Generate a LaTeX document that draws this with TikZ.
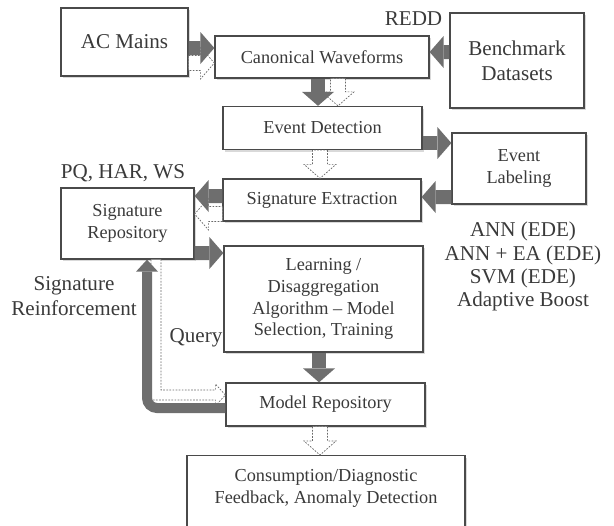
\documentclass[tikz,border=0pt]{standalone}
\usepackage{fontspec}
\setmainfont{Liberation Serif}
\usetikzlibrary{arrows.meta, shadows, calc}
\definecolor{contorno}{HTML}{4A4A4A}
\definecolor{texto}{HTML}{3A3A3A}
\definecolor{setacinza}{HTML}{6E6E6E}
\definecolor{pontilhado}{HTML}{6A6A6A}

\begin{document}
\begin{tikzpicture}[
    caixa/.style={draw=contorno, line width=0.9pt, fill=white, text=texto, align=center,
      inner sep=0pt, font=\fontsize{13}{15.6}\selectfont,
      drop shadow={shadow xshift=0.05cm, shadow yshift=-0.05cm, opacity=0.3}},
    grande/.style={font=\fontsize{15}{17.8}\selectfont},
    rotulo/.style={text=texto, align=center, font=\fontsize{15}{17.8}\selectfont},
    setacheia/.style={draw=setacinza, line width=0.35cm,
      -{Triangle[width=0.8cm, length=0.35cm, line width=0pt]}},
    setaretorno/.style={draw=setacinza, line width=0.25cm, rounded corners=0.25cm,
      -{Triangle[width=0.55cm, length=0.3cm, line width=0pt]}},
    consulta/.style={draw=pontilhado, line width=0.5pt, dash pattern=on 1.2pt off 1pt, fill=white},
    setavazada/.style={draw=pontilhado, line width=0.5pt, dash pattern=on 1.2pt off 1pt, fill=white, to path={
      let \p1=(\tikztostart), \p2=(\tikztotarget),
          \n1={atan2(\y2-\y1,\x2-\x1)}, \n2={veclen(\x2-\x1,\y2-\y1)-9.96pt} in
      ([shift={(\p1)},rotate=\n1] 0pt,5.3pt) -- ([shift={(\p1)},rotate=\n1] \n2,5.3pt)
      -- ([shift={(\p1)},rotate=\n1] \n2,11.4pt) -- (\p2)
      -- ([shift={(\p1)},rotate=\n1] \n2,-11.4pt) -- ([shift={(\p1)},rotate=\n1] \n2,-5.3pt)
      -- ([shift={(\p1)},rotate=\n1] 0pt,-5.3pt) -- cycle}},
  ]
  \useasboundingbox (0,0) rectangle (15.35,-13.125);

  % Caixas
  \node[caixa, grande, minimum width=3.175cm, minimum height=1.7cm] (acmains) at (3.1125,-1.05) {AC Mains};
  \node[caixa, minimum width=5.35cm, minimum height=1.05cm] (canon) at (8.05,-1.425) {Canonical Waveforms};
  \node[caixa, grande, minimum width=3.35cm, minimum height=2.375cm] (bench) at (12.925,-1.5125) {Benchmark\\Datasets};
  \node[caixa, minimum width=4.975cm, minimum height=1.075cm] (evdet) at (8.0625,-3.2) {Event Detection};
  \node[caixa, minimum width=3.35cm, minimum height=1.775cm] (evlab) at (12.975,-4.2125) {Event\\Labeling};
  \node[caixa, minimum width=4.95cm, minimum height=1.05cm] (sigext) at (8.05,-5) {Signature Extraction};
  \node[caixa, minimum width=3.325cm, minimum height=1.775cm] (sigrepo) at (3.1875,-5.5875) {Signature\\Repository};
  \node[caixa, minimum width=4.975cm, minimum height=2.65cm] (learn) at (8.0875,-7.475) {Learning /\\Disaggregation\\Algorithm -- Model\\Selection, Training};
  \node[caixa, minimum width=4.975cm, minimum height=1.075cm] (modelrepo) at (8.1375,-10.1125) {Model Repository};
  \node[caixa, minimum width=6.95cm, anchor=north, inner ysep=0.35cm, text depth=1.6cm] (consume) at (8.15,-11.375) {Consumption/Diagnostic\\Feedback, Anomaly Detection};

  % Rotulos soltos
  \node[rotulo] (redd) at (10.3375,-0.475) {REDD};
  \node[rotulo] (pq) at (3.075,-4.325) {PQ, HAR, WS};
  \node[rotulo, font=\fontsize{15}{16.4}\selectfont] (ann) at (13.075,-6.6625) {ANN (EDE)\\ANN + EA (EDE)\\SVM (EDE)\\Adaptive Boost};
  \node[rotulo] (reinf) at (1.85,-7.4) {Signature\\Reinforcement};
  \node[rotulo] (query) at (4.9,-8.45) {Query};

  % Setas vazadas (por baixo)
  \draw[setavazada] ([yshift=-0.525cm]acmains.east) to ([yshift=-0.15cm]canon.west);
  \draw[setavazada] ([xshift=0.4cm]canon.south) to ([xshift=0.3875cm]evdet.north);
  \draw[setavazada] ([xshift=-0.0625cm]evdet.south) to ([xshift=-0.05cm]sigext.north);
  \draw[setavazada] ([yshift=-0.35cm]sigext.west) to ([yshift=0.2375cm]sigrepo.east);
  \draw[setavazada] ([xshift=-0.1375cm]modelrepo.south) to ([xshift=-0.15cm]consume.north);

  % Setas cheias
  \draw[setacheia] ([yshift=-0.15cm]acmains.east) -- ([yshift=0.225cm]canon.west);
  \draw[setacheia] ([yshift=0.2125cm]bench.west) -- ([yshift=0.125cm]canon.east);
  \draw[setacheia] ([xshift=-0.1cm]canon.south) -- ([xshift=-0.1125cm]evdet.north);
  \draw[setacheia] ([yshift=-0.375cm]evdet.east) -- ([yshift=0.6375cm]evlab.west);
  \draw[setacheia] ([yshift=-0.7125cm]evlab.west) -- ([yshift=0.075cm]sigext.east);
  \draw[setacheia] ([yshift=0.1cm]sigext.west) -- ([yshift=0.6875cm]sigrepo.east);
  \draw[setacheia] ([yshift=-0.7375cm]sigrepo.east) -- ([yshift=1.15cm]learn.west);
  \draw[setacheia] ([xshift=-0.1125cm]learn.south) -- ([xshift=-0.1625cm]modelrepo.north);

  % Consulta e reforco
  \coordinate (qtip) at ([yshift=0.2375cm]modelrepo.west);
  \draw[consulta] ([xshift=0.5875cm]sigrepo.south) |- ([shift={(-0.25cm,-0.125cm)}]qtip)
    -- ++(0,-0.15) -- (qtip) -- ++(-0.25,0.275) -- ++(0,-0.15) -| ([xshift=0.8375cm]sigrepo.south);
  \draw[setaretorno] ([yshift=-0.0875cm]modelrepo.west) -| ([xshift=0.4875cm]sigrepo.south);
\end{tikzpicture}
\end{document}
